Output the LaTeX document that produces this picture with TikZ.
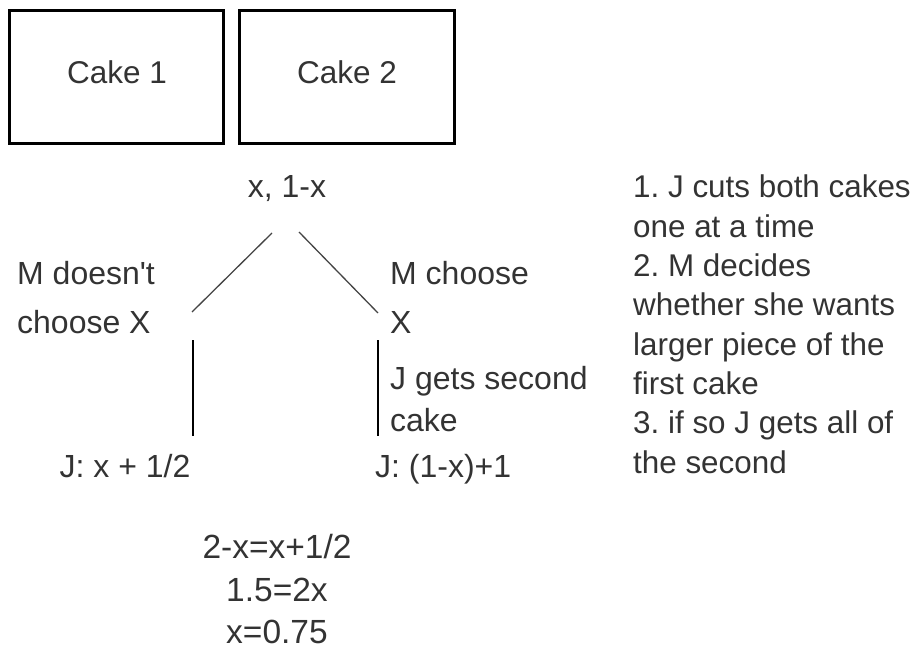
\documentclass[tikz,border=0pt]{standalone}
\usepackage{fontspec}
\setmainfont{Liberation Sans}
\frenchspacing
\definecolor{ink}{HTML}{333333}
\definecolor{linegray}{HTML}{444444}
\tikzset{
  cakebox/.style={draw=black, line width=2.6pt},
  cakelabel/.style={font=\fontsize{31.5}{36}\selectfont, text=ink, inner sep=0pt, anchor=base},
  lab/.style={font=\fontsize{32}{38}\selectfont, text=ink, inner sep=0pt},
  note/.style={font=\fontsize{31.4}{38}\selectfont, text=ink, inner sep=0pt, anchor=base west},
  eqn/.style={font=\fontsize{33.5}{38}\selectfont, text=ink, inner sep=0pt, anchor=base},
  diag/.style={draw=linegray, line width=1.3pt},
  vert/.style={draw=black, line width=2pt},
}
\begin{document}
\begin{tikzpicture}[x=1pt, y=-1pt]
\useasboundingbox (0,0) rectangle (919,650);
% cakes
\node[cakebox, minimum width=214pt, minimum height=133pt, anchor=north west, inner sep=0pt] (box1) at (8,9) {};
\node[cakebox, minimum width=215pt, minimum height=133pt, anchor=north west, inner sep=0pt] (box2) at (238,9) {};
\node[cakelabel] (cake1) at (117,84) {Cake 1};
\node[cakelabel] (cake2) at (347,84) {Cake 2};
% root
\node[lab, anchor=base] (root) at (287,198) {x, 1-x};
% branch labels
\node[lab, anchor=base west] (mno1) at (17,284) {M doesn\textquotesingle t};
\node[lab, anchor=base west] (mno2) at (17,333) {choose X};
\node[lab, anchor=base west] (myes1) at (390,284) {M choose};
\node[lab, anchor=base west] (myes2) at (390,333) {X};
\node[lab, anchor=base west] (jget1) at (390,389) {J gets second};
\node[lab, anchor=base west] (jget2) at (390,431) {cake};
\node[lab, anchor=base] (payl) at (125,477) {J: x + 1/2};
\node[lab, anchor=base west] (payr) at (375,477) {J: (1-x)+1};
% equations
\node[eqn] (eq1) at (277,558) {2-x=x+1/2};
\node[eqn] (eq2) at (277,601) {1.5=2x};
\node[eqn] (eq3) at (277,643) {x=0.75};
% notes
\node[note] (n1) at (633,198) {1. J cuts both cakes};
\node[note] (n2) at (633,237.3) {one at a time};
\node[note] (n3) at (633,276.6) {2. M decides};
\node[note] (n4) at (633,315.9) {whether she wants};
\node[note] (n5) at (633,355.2) {larger piece of the};
\node[note] (n6) at (633,394.5) {first cake};
\node[note] (n7) at (633,433.8) {3. if so J gets all of};
\node[note] (n8) at (633,473.1) {the second};
% connector end points
\coordinate (lt) at (272,233);
\coordinate (lb) at (192,312);
\coordinate (rt) at (299,232);
\coordinate (rb) at (378,313);
\coordinate (vlt) at (193,340);
\coordinate (vlb) at (193,436);
\coordinate (vrt) at (378,340);
\coordinate (vrb) at (378,436);
\draw[diag] (lt) -- (lb);
\draw[diag] (rt) -- (rb);
\draw[vert] (vlt) -- (vlb);
\draw[vert] (vrt) -- (vrb);
\end{tikzpicture}
\end{document}
